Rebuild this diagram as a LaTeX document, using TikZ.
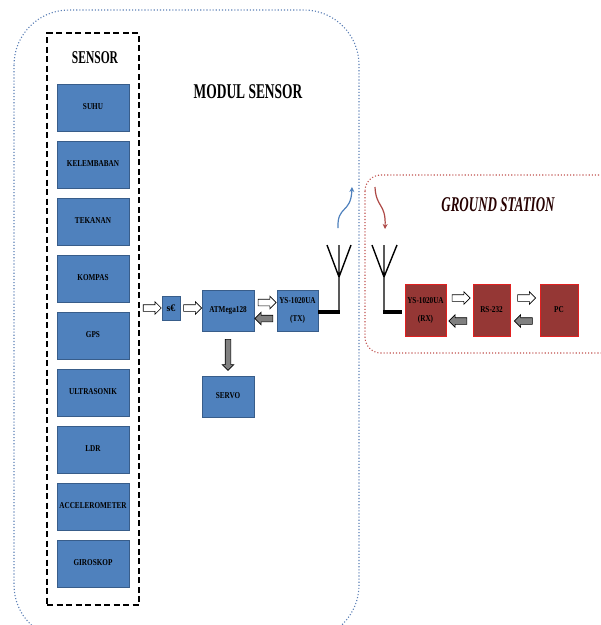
\documentclass[tikz,border=0pt]{standalone}
\usepackage{fontspec}
\setmainfont{Liberation Serif}
\usepackage{tikz}
\usepackage{xcolor}
\usetikzlibrary{positioning, arrows.meta, shapes.arrows, calc}
\definecolor{mBlue}{HTML}{4F81BD}
\definecolor{mBlueEdge}{HTML}{385D8A}
\definecolor{mRed}{HTML}{953735}
\definecolor{mRedEdge}{HTML}{E02020}
\definecolor{mDotBlue}{HTML}{5B7FB5}
\definecolor{mDotRed}{HTML}{C0504D}
\definecolor{mGray}{HTML}{808080}
\newcommand{\lbl}[1]{\scalebox{0.8}[1]{\begin{tabular}{@{}c@{}}#1\end{tabular}}}
\newcommand{\hdr}[1]{\scalebox{0.64}[1]{#1}}

\begin{document}
\begin{tikzpicture}[x=1pt, y=-1pt,
  blk/.style={draw=mBlueEdge, fill=mBlue, line width=0.8pt, inner sep=0pt,
              font=\bfseries\fontsize{9}{10}\selectfont},
  sens/.style={blk, minimum width=72pt, minimum height=47pt},
  gnd/.style={blk, draw=mRedEdge, fill=mRed, minimum height=52pt},
  harr/.style={single arrow, draw=black, fill=white, line width=0.6pt, inner xsep=0pt,
               inner ysep=3pt, minimum height=18pt, single arrow head extend=3pt},
  garr/.style={harr, fill=mGray},
  ant/.style={line width=1.4pt},
  foot/.style={line width=3.5pt},
]
  \useasboundingbox (0,0) rectangle (601,625);
  \clip (0,0) rectangle (601,625);

  % frames
  \draw[mDotBlue, dotted, line width=1.1pt, rounded corners=55pt] (14,10) rectangle (359,640);
  \draw[mDotRed, dotted, line width=1.1pt, rounded corners=16pt] (365,175) rectangle (620,353);
  \node[draw, dash pattern=on 6pt off 3.5pt, line width=1.2pt, minimum width=92pt,
        minimum height=572pt] (sframe) at (93,319) {};

  % titles
  \node[font=\bfseries\fontsize{18}{20}\selectfont] (sensorT) at (95,58) {\hdr{SENSOR}};
  \node[font=\bfseries\fontsize{21}{24}\selectfont] (modulT) at (248,92) {\hdr{MODUL SENSOR}};
  \node[font=\bfseries\itshape\fontsize{21}{24}\selectfont, text=black!85!red] (groundT) at (498,205)
    {\scalebox{0.62}[1]{GROUND STATION}};

  % sensors
  \foreach \nm [count=\i from 0] in {SUHU, KELEMBABAN, TEKANAN, KOMPAS, GPS, ULTRASONIK, LDR, ACCELEROMETER, GIROSKOP}
    \node[sens] (s\i) at (93, 107.5+57*\i) {\lbl{\nm}};

  % modul sensor
  \node[blk, minimum width=18pt, minimum height=24pt, font=\bfseries\fontsize{10}{11}\selectfont] (sc) at (171,308) {s€};
  \node[blk, minimum width=52pt, minimum height=41pt] (atm) at (228,310.5) {\lbl{ATMega128}};
  \node[blk, minimum width=41pt, minimum height=41pt] (tx) at (297.5,310.5) {\lbl{YS-1020UA\\[8pt](TX)}};
  \node[blk, minimum width=52pt, minimum height=41pt] (servo) at (228,396.5) {\lbl{SERVO}};

  \path (sframe.east |- sc.west) -- node[harr]{} (sc.west);
  \path (sc.east) -- node[harr]{} (atm.west |- sc.east);
  \path ([yshift=8pt]atm.east) -- node[harr]{} ([yshift=8pt]tx.west);
  \path ([yshift=-8pt]tx.west) -- node[garr, rotate=180]{} ([yshift=-8pt]atm.east);
  \path (atm.south) -- node[garr, rotate=270, minimum height=31pt, inner ysep=2.5pt]{} (servo.north);

  % ground station
  \node[gnd, minimum width=41pt] (rx) at (425.5,310) {\lbl{YS-1020UA\\[8pt](RX)}};
  \node[gnd, minimum width=37pt] (rs) at (491.5,310) {\lbl{RS-232}};
  \node[gnd, minimum width=38pt] (pc) at (559,310) {\lbl{PC}};

  \path ([yshift=12pt]rx.east) -- node[harr]{} ([yshift=12pt]rs.west);
  \path ([yshift=-11pt]rs.west) -- node[garr, rotate=180]{} ([yshift=-11pt]rx.east);
  \path ([yshift=12pt]rs.east) -- node[harr]{} ([yshift=12pt]pc.west);
  \path ([yshift=-11pt]pc.west) -- node[garr, rotate=180]{} ([yshift=-11pt]rs.east);

  % antennas
  \coordinate (txf) at (339,312);
  \coordinate (txa) at (339,277);
  \draw[foot] (tx.east |- txf) -- ([xshift=1pt]txf);
  \draw[ant] (txf) -- (txa) (327,245) -- (txa) -- (339,245) (txa) -- (351,245);

  \coordinate (rxf) at (384,312);
  \coordinate (rxa) at (384,277);
  \draw[foot] ([xshift=-1pt]rxf) -- ([xshift=-3pt]rx.west |- rxf);
  \draw[ant] (rxf) -- (rxa) (372,245) -- (rxa) -- (384,245) (rxa) -- (397,245);

  % radio link
  \coordinate (upS) at (338,228);
  \coordinate (upE) at (352,187);
  \draw[mBlue, line width=1.2pt, -{Stealth[length=5pt, width=5pt]}]
    (upS) .. controls (337,205) and (351,214) .. (upE);
  \coordinate (dnS) at (375,187);
  \coordinate (dnE) at (385,229);
  \draw[mDotRed!90!black, line width=1.2pt, -{Stealth[length=5pt, width=5pt]}]
    (dnS) .. controls (376,208) and (386,203) .. (dnE);
\end{tikzpicture}
\end{document}
